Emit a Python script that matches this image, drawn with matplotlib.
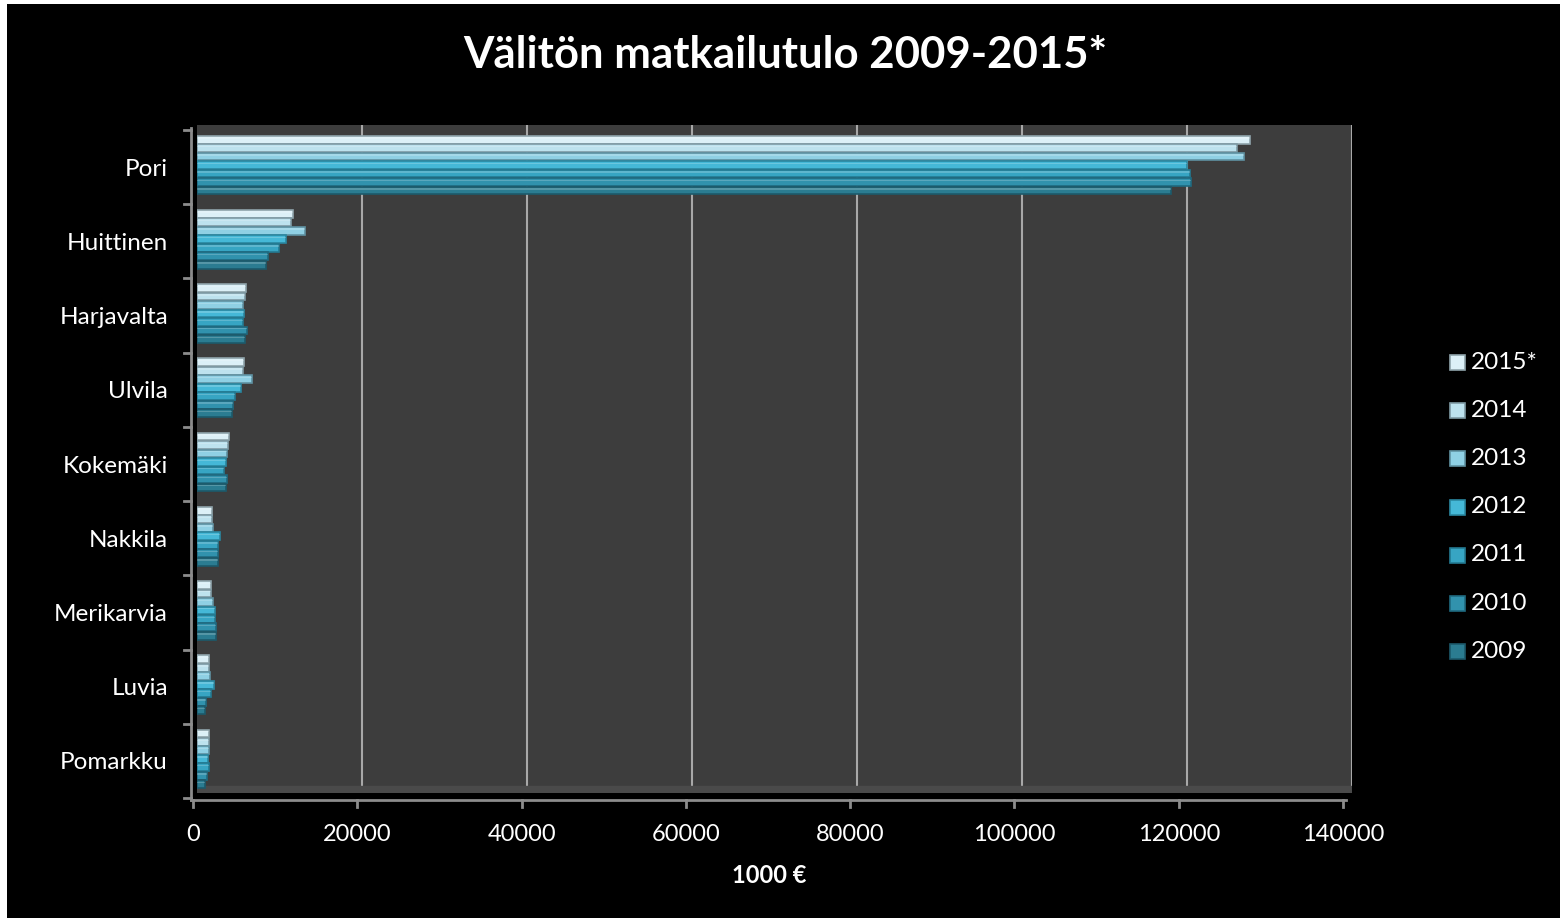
import matplotlib
matplotlib.use("Agg")
import matplotlib.pyplot as plt
from matplotlib.lines import Line2D
from matplotlib.patches import Rectangle
import numpy as np

plt.rcParams['font.family'] = ['Lato', 'DejaVu Sans']

categories = ["Pori", "Huittinen", "Harjavalta", "Ulvila", "Kokemäki",
              "Nakkila", "Merikarvia", "Luvia", "Pomarkku"]
years = ["2015*", "2014", "2013", "2012", "2011", "2010", "2009"]
v2015 = [127600, 11600, 5900, 5700, 3900, 1800, 1700, 1500, 1400]
v2014 = [126000, 11400, 5800, 5600, 3800, 1800, 1700, 1500, 1400]
v2013 = [126900, 13100, 5600, 6700, 3600, 1900, 1900, 1600, 1400]
v2012 = [120000, 10800, 5700, 5300, 3500, 2800, 2200, 2000, 1300]
v2011 = [120400, 9900, 5600, 4600, 3300, 2600, 2200, 1700, 1400]
v2010 = [120500, 8600, 6000, 4400, 3600, 2500, 2300, 1100, 1200]
v2009 = [118000, 8400, 5800, 4300, 3500, 2500, 2300, 1000, 1000]
series = [v2015, v2014, v2013, v2012, v2011, v2010, v2009]
colors = ["#dcf0f7", "#bde2ee", "#8fd0e4", "#45b8d7", "#37a5c3", "#3192ad", "#2b7c91"]
edges = ["#8fa4ab", "#7f9ba5", "#5f92a2", "#2a87a0", "#237a92", "#1f6a80", "#1c5a6b"]
xticks = [0, 20000, 40000, 60000, 80000, 100000, 120000, 140000]

W, H = 1565, 922
fig = plt.figure(figsize=(W / 100, H / 100), dpi=100, facecolor="white")


def fx(px):
    return px / W


def fy(py):
    return 1 - py / H


# black background panel
fig.patches.append(Rectangle((7 / W, 4 / H), (1560 - 7) / W, (918 - 4) / H,
                             transform=fig.transFigure, facecolor="black",
                             edgecolor="none", zorder=-10))

ax = fig.add_axes([fx(197), fy(793), fx(1352) - fx(197), fy(125) - fy(793)])
ax.set_zorder(1)
ax.set_facecolor("#3d3d3d")
ax.set_xlim(0, 140000)
n = len(categories)
ax.set_ylim(n - 0.5, -0.5)

group_w = 0.80
bh = group_w / len(series)
y = np.arange(n)
for i, (vals, c, e) in enumerate(zip(series, colors, edges)):
    offs = -group_w / 2 + bh * (i + 0.5) + 0.04
    ax.barh(y + offs, vals, height=bh * 0.92, color=c, edgecolor=e,
            linewidth=1.2, zorder=3, label=years[i])
    # highlight stripe
    ax.barh(y + offs - bh * 0.2, vals, height=bh * 0.16, color="white",
            alpha=0.2, linewidth=0, zorder=4)

for xv in xticks[1:]:
    ax.axvline(xv, color="#a8a8a8", linewidth=1.5, zorder=1)
# floor strip
ax.axhspan(n - 0.5, n - 0.5 - 0.1, color="#4a4a4a", zorder=1)

ax.set_xticks([])
ax.set_yticks([])
for s in ax.spines.values():
    s.set_visible(False)

# front axes lines
fig.add_artist(Line2D([fx(191), fx(191)], [fy(128), fy(800)], color="#8c8c8c", lw=2, zorder=5))
fig.add_artist(Line2D([fx(191), fx(1346)], [fy(800), fy(800)], color="#8c8c8c", lw=2, zorder=5))

# category ticks and labels
cat_step = (798 - 130) / n
for k in range(n + 1):
    yy = 130 + k * cat_step
    fig.add_artist(Line2D([fx(184), fx(191)], [fy(yy), fy(yy)], color="#8c8c8c", lw=2, zorder=5))
for k, c in enumerate(categories):
    yy = 132 + (k + 0.5) * cat_step
    fig.text(fx(168), fy(yy), c, color="white", fontsize=17.5, ha="right", va="center")

# value ticks and labels on front axis
for xv in xticks:
    px = 193 + xv / 140000 * (1343 - 193)
    fig.add_artist(Line2D([fx(px), fx(px)], [fy(800), fy(807)], color="#8c8c8c", lw=2, zorder=5))
    fig.text(fx(px), fy(834), f"{xv}", color="white", fontsize=17, ha="center", va="center")

fig.text(fx(769), fy(875), "1000 €", color="white", fontsize=17, fontweight="bold",
         ha="center", va="center")
fig.text(fx(785), fy(55), "Välitön matkailutulo 2009-2015*", color="white",
         fontsize=31.5, fontweight="bold", ha="center", va="center")

# legend
for i, (yr, c, e) in enumerate(zip(years, colors, edges)):
    yy = 362 + i * 48.2
    fig.patches.append(Rectangle((fx(1450), fy(yy + 8)), 15 / W, 15 / H,
                                 transform=fig.transFigure, facecolor=c,
                                 edgecolor=e, lw=1.2, zorder=5))
    fig.text(fx(1471), fy(yy), yr, color="white", fontsize=17.5, ha="left", va="center")

fig.savefig("out.png", dpi=100, facecolor="white")
